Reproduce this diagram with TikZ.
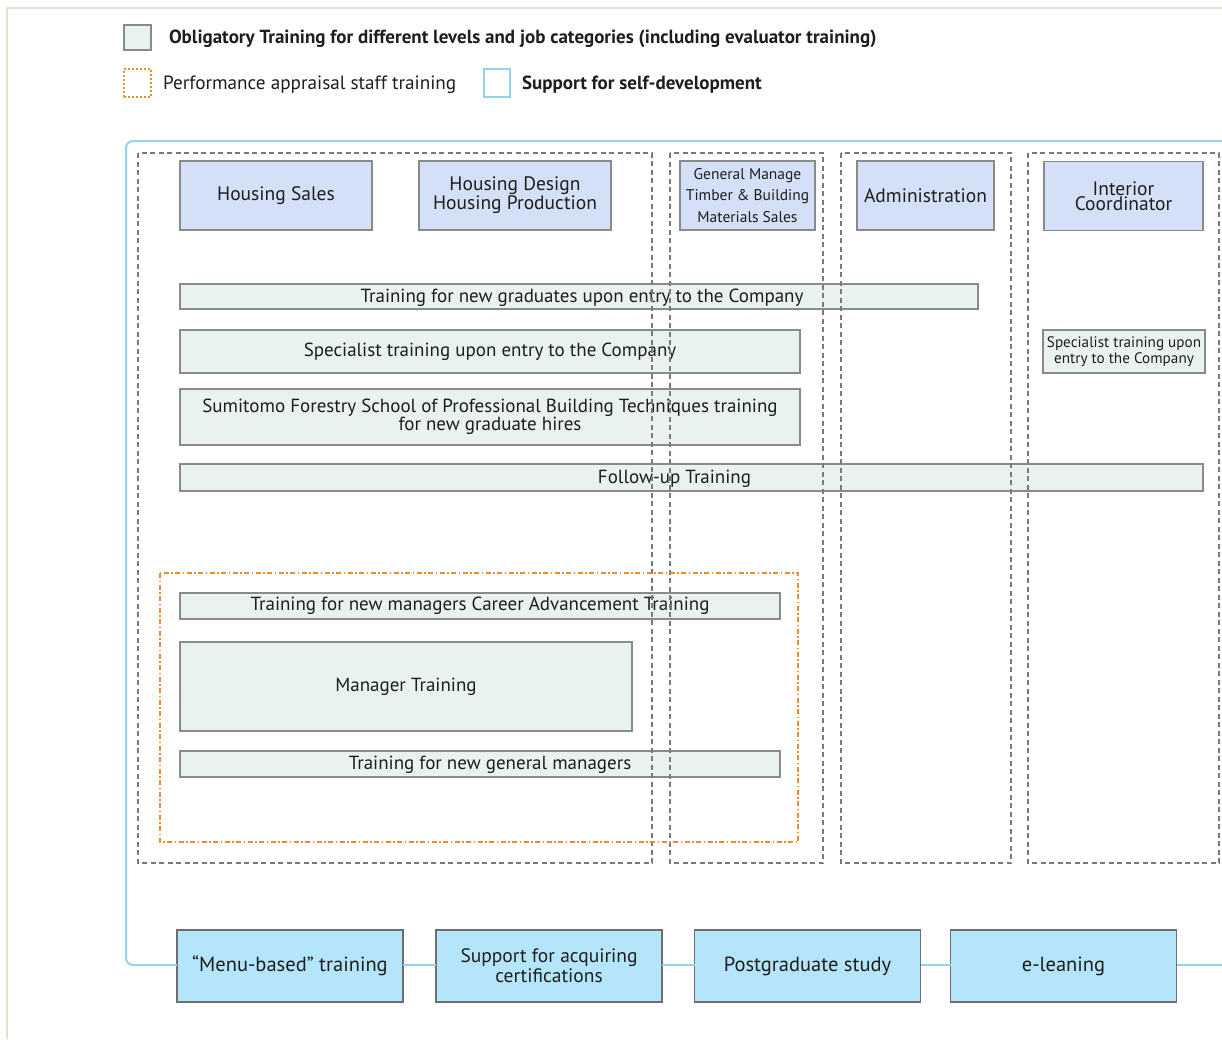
\documentclass[tikz,border=0pt]{standalone}
\usepackage{fontspec}
\setmainfont{PT Sans}
\definecolor{hdrfill}{HTML}{D3E0F7}
\definecolor{barfill}{HTML}{E9F2EE}
\definecolor{selffill}{HTML}{B4E5FB}
\definecolor{boxline}{HTML}{8A8A8A}
\definecolor{colline}{HTML}{7A7A7A}
\definecolor{orangeline}{HTML}{F08C2A}
\definecolor{blueline}{HTML}{92D4F0}
\definecolor{beige}{HTML}{E9DFD0}
\definecolor{txt}{HTML}{1E1E1E}
\begin{document}
\begin{tikzpicture}[x=1pt,y=-1pt,
  every node/.style={text=txt, inner sep=0pt, outer sep=0pt},
  hdr/.style={draw=boxline, fill=hdrfill, line width=1.2pt, align=center, font=\fontsize{19.5}{19}\selectfont},
  bar/.style={draw=boxline, fill=barfill, line width=1.2pt, align=center, font=\fontsize{19}{18}\selectfont},
  selfbox/.style={draw=boxline!80!black, fill=selffill, line width=1.4pt, align=center, font=\fontsize{20.5}{20}\selectfont,
    minimum width=226, minimum height=72},
  colbox/.style={draw=colline, line width=1.1pt, dash pattern=on 5pt off 3.5pt},
  orangebox/.style={draw=orangeline, line width=2.2pt, dash pattern=on 5pt off 2.5pt on 1.5pt off 2.5pt},
  conn/.style={draw=blueline, line width=2pt},
  legtext/.style={anchor=west, font=\fontsize{19.2}{20}\selectfont}
]
\useasboundingbox (0,0) rectangle (1222,1039);
\fill[white] (0,0) rectangle (1222,1039);
% outer beige frame
\draw[beige, line width=1.5pt] (7,1039) -- (7,8) -- (1222,8);

% legend
\node[draw=boxline, fill=barfill, line width=1.2pt, minimum width=27, minimum height=25] (lg1) at (137.5,37.5) {};
\node[legtext, font=\fontsize{19}{20}\selectfont\bfseries] (lt1) at (169,39) {Obligatory Training for different levels and job categories (including evaluator training)};
\node[orangebox, minimum width=27, minimum height=28, line width=2pt, dash pattern=on 2pt off 2pt] (lg2) at (137.5,82.5) {};
\node[legtext] (lt2) at (163,85) {Performance appraisal staff training};
\node[draw=blueline, line width=1.5pt, minimum width=26, minimum height=28] (lg3) at (497,83) {};
\node[legtext, font=\fontsize{19}{20}\selectfont\bfseries] (lt3) at (522,85) {Support for self-development};

% header boxes
\node[hdr, minimum width=192, minimum height=69] (hs) at (276,195.5) {Housing Sales};
\node[hdr, minimum width=192, minimum height=69] (hd) at (515,195.5) {Housing Design\\Housing Production};
\node[hdr, minimum width=135, minimum height=69, font=\fontsize{15.5}{21.5}\selectfont] (gm) at (747.5,195.5) {General Manage\\Timber \& Building\\Materials Sales};
\node[hdr, minimum width=137, minimum height=69] (ad) at (925.5,195.5) {Administration};
\node[hdr, minimum width=159, minimum height=69, font=\fontsize{19.5}{11}\selectfont] (ic) at (1123.5,196) {Interior\\Coordinator};

% training bars
\node[bar, minimum width=798, minimum height=25] (ng) at (579,296.5) {};
\node[font=\fontsize{19}{18}\selectfont] (ngt) at (582,297.5) {Training for new graduates upon entry to the Company};
\node[bar, minimum width=620, minimum height=43] (sp) at (490,351.5) {Specialist training upon entry to the Company};
\node[bar, minimum width=620, minimum height=56] (sf) at (490,417) {Sumitomo Forestry School of Professional Building Techniques training\\for new graduate hires};
\node[bar, minimum width=162, minimum height=43, font=\fontsize{15.2}{16}\selectfont] (spi) at (1124,351.5) {Specialist training upon\\entry to the Company};
\node[bar, minimum width=1023, minimum height=27] (fu) at (691.5,477.5) {};
\node[font=\fontsize{19}{18}\selectfont] (fut) at (674.5,478.5) {Follow-up Training};

% managers
\node[bar, minimum width=600, minimum height=26] (nm) at (480,606) {Training for new managers Career Advancement Training};
\node[bar, minimum width=452, minimum height=89] (mt) at (406,686.5) {Manager Training};
\node[bar, minimum width=600, minimum height=26] (gmt) at (480,764) {};
\node[font=\fontsize{19}{18}\selectfont] (gmtt) at (490,765) {Training for new general managers};

% column dashed boxes (drawn on top as in reference)
\draw[colbox] (138,153) rectangle (652,863);
\draw[colbox] (670,153) rectangle (823,863);
\draw[colbox] (841,153) rectangle (1011,863);
\draw[colbox] (1028,153) rectangle (1219,863);
\draw[orangebox] (160,573) rectangle (798,842);

% self-development boxes
\node[selfbox] (menu) at (290,966) {“Menu-based” training};
\node[selfbox, font=\fontsize{19.5}{20}\selectfont] (cert) at (549,966) {Support for acquiring\\certifications};
\node[selfbox] (pg) at (807.5,966) {Postgraduate study};
\node[selfbox] (el) at (1063.5,966) {e-leaning};
\coordinate (tr) at (1222,141);
\coordinate (br) at (1222,965);
\draw[conn, rounded corners=7] (tr) -- (126,141) -- (126,965) -- (menu.west |- 0,965);
\draw[conn] (menu.east |- 0,965) -- (cert.west |- 0,965);
\draw[conn] (cert.east |- 0,965) -- (pg.west |- 0,965);
\draw[conn] (pg.east |- 0,965) -- (el.west |- 0,965);
\draw[conn] (el.east |- 0,965) -- (br);
\end{tikzpicture}
\end{document}
